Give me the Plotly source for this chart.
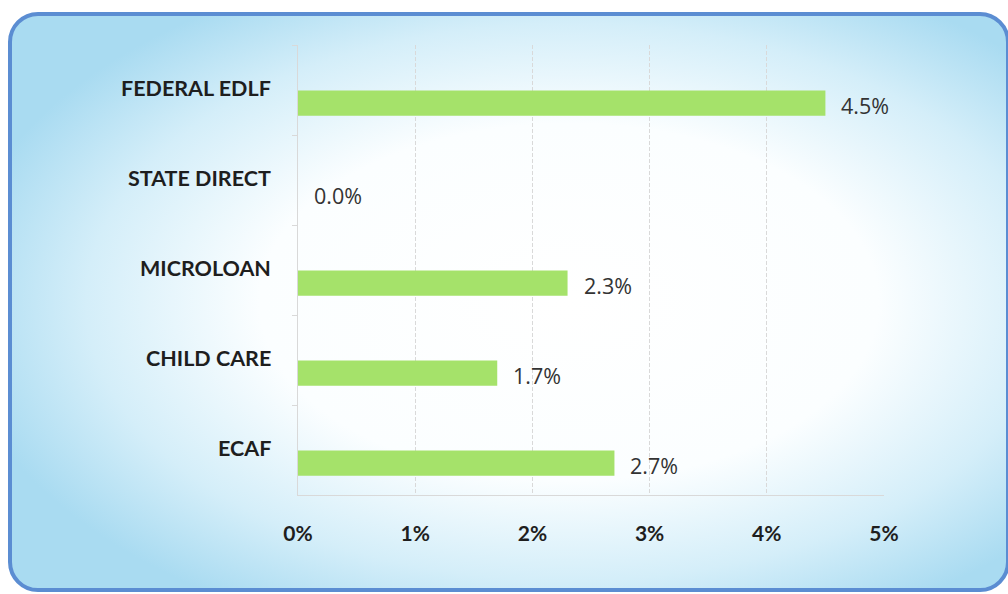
import base64
import plotly.graph_objects as go

categories = ["FEDERAL EDLF", "STATE DIRECT", "MICROLOAN", "CHILD CARE", "ECAF"]
values = [4.5, 0.0, 2.3, 1.7, 2.7]
value_labels = ["4.5%", "0.0%", "2.3%", "1.7%", "2.7%"]
x_ticks = [0, 1, 2, 3, 4, 5]
x_tick_labels = ["0%", "1%", "2%", "3%", "4%", "5%"]

W, H = 1008, 594
L, R, T, B = 298, 124, 45, 99
pw, ph = W - L - R, H - T - B
band_px = ph / len(categories)
bar_w, bar_off = 0.28, 0.005
bar_center_shift_px = (bar_off + bar_w / 2) * band_px

svg = f'''<svg xmlns="http://www.w3.org/2000/svg" width="{W}" height="{H}" viewBox="0 0 {W} {H}">
<defs>
<radialGradient id="g" cx="0.56" cy="0.5" r="0.62">
<stop offset="0" stop-color="#ffffff"/>
<stop offset="0.5" stop-color="#fbfeff"/>
<stop offset="0.78" stop-color="#d4eef9"/>
<stop offset="1" stop-color="#a9dbf1"/>
</radialGradient>
</defs>
<rect x="0" y="0" width="{W}" height="{H}" fill="#ffffff"/>
<rect x="10" y="14" width="998" height="576" rx="28" ry="28" fill="url(#g)" stroke="#5b8dd2" stroke-width="4"/>
</svg>'''
src = "data:image/svg+xml;base64," + base64.b64encode(svg.encode()).decode()

fig = go.Figure()
fig.add_trace(go.Bar(
    x=values, y=categories, orientation="h",
    width=bar_w, offset=bar_off,
    marker=dict(color="#a5e26a", line=dict(width=0)),
    hoverinfo="skip",
))

annotations = []
for c, v, t in zip(categories, values, value_labels):
    annotations.append(dict(
        x=v, y=c, xref="x", yref="y", text=t, showarrow=False,
        xanchor="left", yanchor="middle", xshift=14,
        yshift=-(bar_center_shift_px + 2),
        font=dict(family="Open Sans", size=21.5, color="#333333"),
    ))
    annotations.append(dict(
        x=0, y=c, xref="x", yref="y", text=c, showarrow=False,
        xanchor="right", yanchor="middle", xshift=-25, yshift=2,
        font=dict(family="Lato", size=21.5, color="#1e1e1e", weight="bold"),
    ))
annotations.append(dict(
    x=(960 - L) / pw, y=(H - B - 3) / ph, xref="paper", yref="paper",
    text="Chart 5", showarrow=False, xanchor="center", yanchor="bottom",
    font=dict(family="Lato", size=20, color="#333333"),
))

fig.update_layout(
    width=W, height=H,
    margin=dict(l=L, r=R, t=T, b=B, pad=0),
    paper_bgcolor="rgba(0,0,0,0)",
    plot_bgcolor="rgba(0,0,0,0)",
    showlegend=False,
    annotations=annotations,
    images=[dict(
        source=src, xref="paper", yref="paper",
        x=-L / pw, y=1 + T / ph, sizex=W / pw, sizey=H / ph,
        xanchor="left", yanchor="top", sizing="stretch", layer="below",
    )],
    xaxis=dict(
        range=[0, 5], tickvals=x_ticks, ticktext=x_tick_labels,
        showgrid=True, gridcolor="#d9d9d9", gridwidth=1, griddash="4px,2px",
        showline=True, linecolor="#d9d9d9", linewidth=1,
        zeroline=False, ticks="", ticklabelstandoff=20,
        tickfont=dict(family="Lato", size=21, color="#1e1e1e", weight="bold"),
        fixedrange=True,
    ),
    yaxis=dict(
        autorange="reversed", showticklabels=False,
        showline=True, linecolor="#d9d9d9", linewidth=1,
        ticks="outside", tickson="boundaries", ticklen=5, tickcolor="#d9d9d9",
        showgrid=False, zeroline=False, fixedrange=True,
    ),
)

fig.write_html("out.html")
